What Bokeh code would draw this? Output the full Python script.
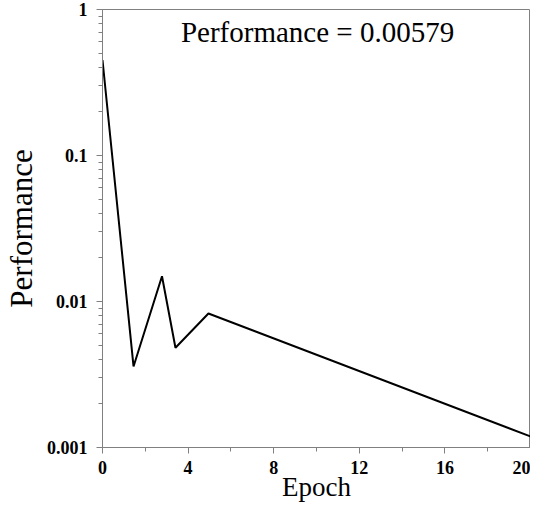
from bokeh.plotting import figure
from bokeh.models import Range1d, FixedTicker, Label
from bokeh.embed import file_html
from bokeh.resources import INLINE

epochs = [0, 1.45, 2.78, 3.41, 4.95, 20]
performance = [0.45, 0.00359, 0.0149, 0.00482, 0.00828, 0.00119]
x_major = [0, 4, 8, 12, 16, 20]
x_minor = [2, 6, 10, 14, 18]
y_major = [0.001, 0.01, 0.1, 1]
y_minor = [m * d for d in [0.001, 0.01, 0.1] for m in range(2, 10)]
y_labels = {0.001: "0.001", 0.01: "0.01", 0.1: "0.1", 1: "1"}
title_text = "Performance = 0.00579"

p = figure(width=530, height=504, output_backend="svg", toolbar_location=None,
           x_range=Range1d(0, 20), y_range=Range1d(0.001, 1), y_axis_type="log",
           min_border_left=95, min_border_right=0, min_border_top=9, min_border_bottom=50)
p.grid.visible = False
p.outline_line_color = "#808080"
p.outline_line_width = 1

p.line(epochs, performance, line_color="black", line_width=2)

p.xaxis.ticker = FixedTicker(ticks=x_major, minor_ticks=x_minor)
p.yaxis.ticker = FixedTicker(ticks=y_major, minor_ticks=y_minor)
p.yaxis.major_label_overrides = y_labels

for ax in (p.xaxis[0], p.yaxis[0]):
    ax.axis_line_color = "#808080"
    ax.major_tick_line_color = "#808080"
    ax.minor_tick_line_color = "#808080"
    ax.major_tick_out = 6
    ax.major_tick_in = 0
    ax.minor_tick_out = 4
    ax.minor_tick_in = 0
    ax.major_label_text_font = "Liberation Serif"
    ax.major_label_text_font_style = "bold"
    ax.major_label_text_font_size = "18px"
    ax.major_label_text_color = "black"
    ax.major_label_standoff = 9
    ax.axis_label_text_font = "Liberation Serif"
    ax.axis_label_text_font_style = "normal"
    ax.axis_label_text_color = "black"

p.xaxis.major_label_standoff = 7
p.xaxis.axis_label = "Epoch"
p.yaxis.axis_label = "Performance"
p.xaxis.axis_label_text_font_size = "27px"
p.yaxis.axis_label_text_font_size = "31px"
p.xaxis.axis_label_standoff = -5
p.yaxis.axis_label_standoff = 5

p.add_layout(Label(x=10.05, y=0.70, text=title_text, text_align="center",
                   text_baseline="middle", text_font="Liberation Serif",
                   text_font_size="29px", text_color="black"))

open("out.html", "w").write(file_html(p, INLINE))
